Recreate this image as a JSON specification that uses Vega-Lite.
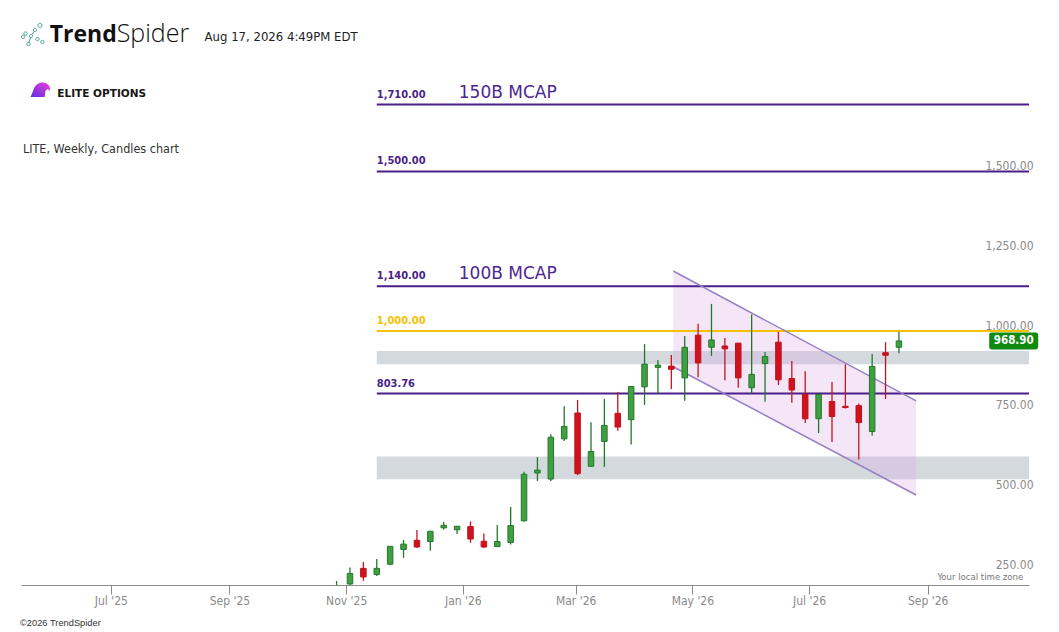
{
  "$schema": "https://vega.github.io/schema/vega-lite/v6.json",
  "width": 1008,
  "height": 585,
  "autosize": {"type": "none"},
  "padding": {"left": 21, "top": 0, "right": 30, "bottom": 47},
  "background": "white",
  "config": {"view": {"stroke": null}},
  "datasets": {
    "candles": [
      {"date": "2025-10-27", "open": 176, "high": 216, "low": 170, "close": 199},
      {"date": "2025-11-03", "open": 207, "high": 259, "low": 203, "close": 240},
      {"date": "2025-11-10", "open": 256, "high": 276, "low": 217, "close": 229},
      {"date": "2025-11-17", "open": 237, "high": 285, "low": 232, "close": 256},
      {"date": "2025-11-24", "open": 269, "high": 326, "low": 266, "close": 325},
      {"date": "2025-12-01", "open": 315, "high": 345, "low": 289, "close": 332},
      {"date": "2025-12-08", "open": 344, "high": 376, "low": 320, "close": 323},
      {"date": "2025-12-15", "open": 340, "high": 374, "low": 311, "close": 372},
      {"date": "2025-12-22", "open": 383, "high": 401, "low": 378, "close": 391},
      {"date": "2025-12-29", "open": 377, "high": 389, "low": 364, "close": 388},
      {"date": "2026-01-05", "open": 387, "high": 403, "low": 336, "close": 348},
      {"date": "2026-01-12", "open": 341, "high": 365, "low": 320, "close": 323},
      {"date": "2026-01-19", "open": 324, "high": 392, "low": 324, "close": 340},
      {"date": "2026-01-26", "open": 337, "high": 448, "low": 331, "close": 390},
      {"date": "2026-02-02", "open": 405, "high": 559, "low": 403, "close": 551},
      {"date": "2026-02-09", "open": 555, "high": 605, "low": 530, "close": 564},
      {"date": "2026-02-16", "open": 536, "high": 676, "low": 530, "close": 667},
      {"date": "2026-02-23", "open": 662, "high": 764, "low": 655, "close": 701},
      {"date": "2026-03-02", "open": 743, "high": 784, "low": 548, "close": 553},
      {"date": "2026-03-09", "open": 576, "high": 714, "low": 574, "close": 622},
      {"date": "2026-03-16", "open": 654, "high": 787, "low": 574, "close": 704},
      {"date": "2026-03-23", "open": 742, "high": 809, "low": 687, "close": 699},
      {"date": "2026-03-30", "open": 722, "high": 826, "low": 644, "close": 826},
      {"date": "2026-04-06", "open": 825, "high": 959, "low": 768, "close": 896},
      {"date": "2026-04-13", "open": 886, "high": 909, "low": 804, "close": 893},
      {"date": "2026-04-20", "open": 890, "high": 925, "low": 818, "close": 880},
      {"date": "2026-04-27", "open": 853, "high": 984, "low": 781, "close": 949},
      {"date": "2026-05-04", "open": 987, "high": 1023, "low": 855, "close": 900},
      {"date": "2026-05-11", "open": 949, "high": 1085, "low": 922, "close": 972},
      {"date": "2026-05-18", "open": 953, "high": 978, "low": 846, "close": 944},
      {"date": "2026-05-25", "open": 962, "high": 962, "low": 822, "close": 853},
      {"date": "2026-06-01", "open": 822, "high": 1052, "low": 804, "close": 864},
      {"date": "2026-06-08", "open": 898, "high": 934, "low": 778, "close": 920},
      {"date": "2026-06-15", "open": 965, "high": 998, "low": 831, "close": 847},
      {"date": "2026-06-22", "open": 851, "high": 906, "low": 775, "close": 815},
      {"date": "2026-06-29", "open": 801, "high": 874, "low": 712, "close": 725},
      {"date": "2026-07-06", "open": 725, "high": 801, "low": 680, "close": 801},
      {"date": "2026-07-13", "open": 779, "high": 840, "low": 652, "close": 732},
      {"date": "2026-07-20", "open": 764, "high": 896, "low": 757, "close": 760},
      {"date": "2026-07-27", "open": 766, "high": 773, "low": 597, "close": 713},
      {"date": "2026-08-03", "open": 685, "high": 928, "low": 672, "close": 889},
      {"date": "2026-08-10", "open": 932, "high": 965, "low": 787, "close": 924},
      {"date": "2026-08-17", "open": 949, "high": 998, "low": 930, "close": 968.9}
    ],
    "levels": [
      {"start": "2025-11-17", "end": "2026-10-24", "price": 1710, "group": "key", "tag": "150B MCAP"},
      {"start": "2025-11-17", "end": "2026-10-24", "price": 1500, "group": "key", "tag": null},
      {"start": "2025-11-17", "end": "2026-10-24", "price": 1140, "group": "key", "tag": "100B MCAP"},
      {"start": "2025-11-17", "end": "2026-10-24", "price": 1000, "group": "round", "tag": null},
      {"start": "2025-11-17", "end": "2026-10-24", "price": 803.76, "group": "key", "tag": null}
    ],
    "zones": [
      {"start": "2025-11-17", "end": "2026-10-24", "lo": 896, "hi": 937},
      {"start": "2025-11-17", "end": "2026-10-24", "lo": 535, "hi": 607}
    ],
    "channel": [
      {"date": "2026-04-21", "upper": 1188, "lower": 888},
      {"date": "2026-08-26", "upper": 781, "lower": 486}
    ]
  },
  "layer": [
    {
      "data": {"name": "zones"},
      "mark": {"type": "rect", "color": "#cfd5da", "opacity": 0.9},
      "encoding": {
        "x": {
          "field": "start", "type": "temporal", "title": null,
          "scale": {"type": "utc", "nice": false, "padding": 0, "domain": [{"year": 2025, "month": 5, "date": 15, "utc": true}, {"year": 2026, "month": 10, "date": 24, "utc": true}]},
          "axis": {
            "values": [
              {"year": 2025, "month": 7, "date": 1, "utc": true},
              {"year": 2025, "month": 9, "date": 1, "utc": true},
              {"year": 2025, "month": 11, "date": 1, "utc": true},
              {"year": 2026, "month": 1, "date": 1, "utc": true},
              {"year": 2026, "month": 3, "date": 1, "utc": true},
              {"year": 2026, "month": 5, "date": 1, "utc": true},
              {"year": 2026, "month": 7, "date": 1, "utc": true},
              {"year": 2026, "month": 9, "date": 1, "utc": true}
            ],
            "labelExpr": "utcFormat(datum.value, \"%b '%y\")",
            "title": null, "grid": false,
            "domainColor": "#8c8c8c", "tickColor": "#8c8c8c", "tickSize": 9,
            "labelPadding": 1, "labelColor": "#8a8a8a", "labelFont": "DejaVu Sans Condensed",
            "labelFontSize": 12, "labelFlush": false, "labelOverlap": false
          }
        },
        "x2": {"field": "end"},
        "y": {
          "field": "lo", "type": "quantitative", "title": null,
          "scale": {"domain": [203.8, 2037.6], "zero": false, "nice": false, "padding": 0},
          "axis": {
            "orient": "right", "values": [250, 500, 750, 1000, 1250, 1500], "format": ",.2f",
            "title": null, "grid": false, "domain": false, "ticks": false, "tickSize": 0,
            "labelPadding": 4, "labelAlign": "right", "labelBaseline": "alphabetic", "labelOffset": -2,
            "labelColor": "#8a8a8a", "labelFont": "DejaVu Sans Condensed", "labelFontSize": 12
          }
        },
        "y2": {"field": "hi"}
      }
    },
    {
      "data": {"name": "channel"},
      "mark": {"type": "area", "color": "#d9a8e6", "opacity": 0.3},
      "encoding": {
        "x": {"field": "date", "type": "temporal"},
        "y": {"field": "upper", "type": "quantitative"},
        "y2": {"field": "lower"}
      }
    },
    {
      "data": {"name": "levels"},
      "mark": {"type": "rule", "strokeWidth": 2},
      "encoding": {
        "x": {"field": "start", "type": "temporal"},
        "x2": {"field": "end"},
        "y": {"field": "price", "type": "quantitative"},
        "color": {"field": "group", "type": "nominal", "scale": {"domain": ["key", "round"], "range": ["#4a1f88", "#f5c000"]}, "legend": null}
      }
    },
    {
      "data": {"name": "channel"},
      "mark": {"type": "line", "color": "#9580c4", "strokeWidth": 1.5},
      "encoding": {
        "x": {"field": "date", "type": "temporal"},
        "y": {"field": "upper", "type": "quantitative"}
      }
    },
    {
      "data": {"name": "channel"},
      "mark": {"type": "line", "color": "#9580c4", "strokeWidth": 1.5},
      "encoding": {
        "x": {"field": "date", "type": "temporal"},
        "y": {"field": "lower", "type": "quantitative"}
      }
    },
    {
      "data": {"name": "candles"},
      "mark": {"type": "rule", "strokeWidth": 1.3, "clip": true},
      "encoding": {
        "x": {"field": "date", "type": "temporal"},
        "y": {"field": "low", "type": "quantitative"},
        "y2": {"field": "high"},
        "color": {"condition": {"test": "datum.close >= datum.open", "value": "#23772a"}, "value": "#c8131e"}
      }
    },
    {
      "data": {"name": "candles"},
      "mark": {"type": "bar", "width": 5.5, "strokeWidth": 1, "clip": true},
      "encoding": {
        "x": {"field": "date", "type": "temporal"},
        "y": {"field": "open", "type": "quantitative"},
        "y2": {"field": "close"},
        "fill": {"condition": {"test": "datum.close >= datum.open", "value": "#3f9f42"}, "value": "#d0121f"},
        "stroke": {"condition": {"test": "datum.close >= datum.open", "value": "#23772a"}, "value": "#c0111b"}
      }
    },
    {
      "data": {"name": "levels"},
      "mark": {"type": "text", "align": "left", "baseline": "alphabetic", "dy": -7, "font": "DejaVu Sans Condensed", "fontWeight": "bold", "fontSize": 11},
      "encoding": {
        "x": {"field": "start", "type": "temporal"},
        "y": {"field": "price", "type": "quantitative"},
        "text": {"field": "price", "type": "quantitative", "format": ",.2f"},
        "color": {"field": "group", "type": "nominal", "legend": null}
      }
    },
    {
      "data": {"name": "levels"},
      "transform": [{"filter": "datum.tag != null"}],
      "mark": {"type": "text", "align": "left", "baseline": "alphabetic", "dx": 82, "dy": -7, "font": "DejaVu Sans", "fontSize": 17, "color": "#4d2690"},
      "encoding": {
        "x": {"field": "start", "type": "temporal"},
        "y": {"field": "price", "type": "quantitative"},
        "text": {"field": "tag"}
      }
    },
    {
      "data": {"values": [{"date": "2026-10-16", "price": 968.9}]},
      "mark": {"type": "point", "filled": true, "opacity": 1, "size": 2401, "color": "#128a12", "strokeWidth": 0,
        "shape": "M -0.9 -0.347 L 0.9 -0.347 Q 1 -0.347 1 -0.247 L 1 0.247 Q 1 0.347 0.9 0.347 L -0.9 0.347 Q -1 0.347 -1 0.247 L -1 -0.247 Q -1 -0.347 -0.9 -0.347 Z"},
      "encoding": {
        "x": {"field": "date", "type": "temporal"},
        "y": {"field": "price", "type": "quantitative"}
      }
    },
    {
      "data": {"values": [{"date": "2026-10-16", "price": 968.9}]},
      "mark": {"type": "text", "align": "center", "baseline": "middle", "dy": 0.5, "font": "DejaVu Sans Condensed", "fontWeight": "bold", "fontSize": 11.5, "color": "white"},
      "encoding": {
        "x": {"field": "date", "type": "temporal"},
        "y": {"field": "price", "type": "quantitative"},
        "text": {"field": "price", "type": "quantitative", "format": ".2f"}
      }
    },
    {
      "data": {"values": [{"date": "2025-05-21", "price": 1924.8}]},
      "mark": {"type": "point", "filled": false, "size": 576, "stroke": "#3f9f8f", "strokeWidth": 1, "opacity": 1,
        "shape": "M 0.455 -0.875 a 0.17 0.17 0 1 0 0.34 0 a 0.17 0.17 0 1 0 -0.34 0 M 0.07 -0.5 a 0.14 0.14 0 1 0 0.28 0 a 0.14 0.14 0 1 0 -0.28 0 M -0.72 -0.21 a 0.14 0.14 0 1 0 0.28 0 a 0.14 0.14 0 1 0 -0.28 0 M -0.265 0 a 0.14 0.14 0 1 0 0.28 0 a 0.14 0.14 0 1 0 -0.28 0 M 0.28 0.25 a 0.14 0.14 0 1 0 0.28 0 a 0.14 0.14 0 1 0 -0.28 0 M 0.69 0.5 a 0.14 0.14 0 1 0 0.28 0 a 0.14 0.14 0 1 0 -0.28 0 M -0.47 0.67 a 0.14 0.14 0 1 0 0.28 0 a 0.14 0.14 0 1 0 -0.28 0 M -0.92 0.06 a 0.14 0.14 0 1 0 0.28 0 a 0.14 0.14 0 1 0 -0.28 0 M -0.16 0.14 L -0.3 0.53 M -0.05 -0.12 L 0.13 -0.38"},
      "encoding": {
        "x": {"field": "date", "type": "temporal"},
        "y": {"field": "price", "type": "quantitative"}
      }
    },
    {
      "data": {"values": [{"date": "2025-05-30", "price": 1906, "text": "Trend"}]},
      "mark": {"type": "text", "align": "left", "baseline": "alphabetic", "font": "Open Sans", "fontWeight": "bold", "fontSize": 23, "color": "#111111"},
      "encoding": {
        "x": {"field": "date", "type": "temporal"},
        "y": {"field": "price", "type": "quantitative"},
        "text": {"field": "text"}
      }
    },
    {
      "data": {"values": [{"date": "2025-07-04", "price": 1906, "text": "Spider"}]},
      "mark": {"type": "text", "align": "left", "baseline": "alphabetic", "font": "Open Sans", "fontWeight": 300, "fontSize": 25, "color": "#111111"},
      "encoding": {
        "x": {"field": "date", "type": "temporal"},
        "y": {"field": "price", "type": "quantitative"},
        "text": {"field": "text"}
      }
    },
    {
      "data": {"values": [{"date": "2025-08-19", "price": 1910, "text": "Aug 17, 2026 4:49PM EDT"}]},
      "mark": {"type": "text", "align": "left", "baseline": "alphabetic", "font": "DejaVu Sans Condensed", "fontSize": 13, "color": "#222222"},
      "encoding": {
        "x": {"field": "date", "type": "temporal"},
        "y": {"field": "price", "type": "quantitative"},
        "text": {"field": "text"}
      }
    },
    {
      "data": {"values": [{"date": "2025-05-25", "price": 1755.5}]},
      "mark": {"type": "point", "filled": true, "opacity": 1, "size": 400, "strokeWidth": 0,
        "fill": {"gradient": "linear", "x1": 1, "y1": 0, "x2": 0, "y2": 1, "stops": [{"offset": 0, "color": "#ec3fd6"}, {"offset": 1, "color": "#5b2ee6"}]},
        "shape": "M -0.95 0.7 L -0.55 -0.3 Q -0.2 -0.8 0.3 -0.75 Q 0.8 -0.7 0.95 -0.3 L 1 0.1 L 0.75 -0.1 L 0.55 0.05 L 0.45 0.7 Z"},
      "encoding": {
        "x": {"field": "date", "type": "temporal"},
        "y": {"field": "price", "type": "quantitative"}
      }
    },
    {
      "data": {"values": [{"date": "2025-06-03", "price": 1734.5, "text": "ELITE OPTIONS"}]},
      "mark": {"type": "text", "align": "left", "baseline": "alphabetic", "font": "DejaVu Sans", "fontWeight": "bold", "fontSize": 10.5, "color": "#151515"},
      "encoding": {
        "x": {"field": "date", "type": "temporal"},
        "y": {"field": "price", "type": "quantitative"},
        "text": {"field": "text"}
      }
    },
    {
      "data": {"values": [{"date": "2025-05-16", "price": 1558.9, "text": "LITE, Weekly, Candles chart"}]},
      "mark": {"type": "text", "align": "left", "baseline": "alphabetic", "font": "DejaVu Sans Condensed", "fontSize": 12.5, "color": "#333333"},
      "encoding": {
        "x": {"field": "date", "type": "temporal"},
        "y": {"field": "price", "type": "quantitative"},
        "text": {"field": "text"}
      }
    },
    {
      "data": {"values": [{"date": "2026-10-21", "price": 219.4, "text": "Your local time zone"}]},
      "mark": {"type": "text", "align": "right", "baseline": "alphabetic", "font": "DejaVu Sans Condensed", "fontSize": 9.5, "color": "#777777"},
      "encoding": {
        "x": {"field": "date", "type": "temporal"},
        "y": {"field": "price", "type": "quantitative"},
        "text": {"field": "text"}
      }
    },
    {
      "data": {"values": [{"date": "2025-05-15", "price": 75.2, "text": "©2026 TrendSpider"}]},
      "mark": {"type": "text", "align": "left", "baseline": "alphabetic", "dx": -1, "font": "Liberation Sans", "fontSize": 9.3, "color": "#333333"},
      "encoding": {
        "x": {"field": "date", "type": "temporal"},
        "y": {"field": "price", "type": "quantitative"},
        "text": {"field": "text"}
      }
    }
  ]
}
